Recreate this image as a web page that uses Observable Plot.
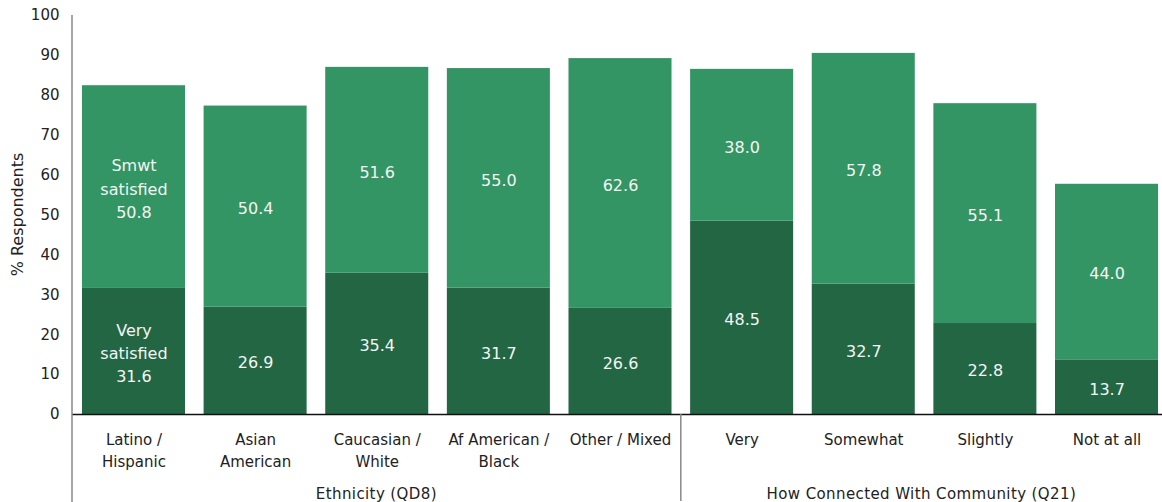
<!DOCTYPE html>
<html>
<head>
<meta charset="utf-8">
<script src="https://cdn.jsdelivr.net/npm/d3@7"></script>
<script src="https://cdn.jsdelivr.net/npm/@observablehq/plot@0.6"></script>
<style>
  html, body { margin: 0; padding: 0; background: #fff; }
  #chart svg { display: block; }
</style>
</head>
<body>
<div id="chart"></div>
<script>
// ---- data ----
const categories = ["Latino / Hispanic", "Asian American", "Caucasian / White", "Af American / Black", "Other / Mixed", "Very", "Somewhat", "Slightly", "Not at all"];
const tickLabels = ["Latino /\nHispanic", "Asian\nAmerican", "Caucasian /\nWhite", "Af American /\nBlack", "Other / Mixed", "Very", "Somewhat", "Slightly", "Not at all"];
const groupNames = ["Ethnicity (QD8)", "How Connected With Community (Q21)"];
const groupOf = [0, 0, 0, 0, 0, 1, 1, 1, 1];
const seriesNames = ["Very satisfied", "Smwt satisfied"];
const seriesLabelText = ["Very\nsatisfied", "Smwt\nsatisfied"];
const verySatisfied = [31.6, 26.9, 35.4, 31.7, 26.6, 48.5, 32.7, 22.8, 13.7];
const smwtSatisfied = [50.8, 50.4, 51.6, 55.0, 62.6, 38.0, 57.8, 55.1, 44.0];
const yTicks = [0, 10, 20, 30, 40, 50, 60, 70, 80, 90, 100];
const yTitle = "% Respondents";
const seriesColors = ["#236644", "#339464"];

const seriesValues = [verySatisfied, smwtSatisfied];
const rows = categories.flatMap((cat, i) => seriesNames.map((s, k) => {
  const v = seriesValues[k][i];
  const txt = v.toFixed(1);
  return {cat, series: s, value: v, label: i === 0 ? seriesLabelText[k] + "\n" + txt : txt};
}));
const tickLabelOf = new Map(categories.map((c, i) => [c, tickLabels[i]]));

const FONT = "DejaVu Sans, Verdana, sans-serif";

function groupDecor(index, scales, values, dims) {
  const x = scales.x;
  const bw = typeof x.bandwidth === "function" ? x.bandwidth() : 0;
  const g = d3.create("svg:g");
  const y0 = dims.height - dims.marginBottom;
  // left axis line extending to bottom
  g.append("line")
    .attr("x1", dims.marginLeft).attr("x2", dims.marginLeft)
    .attr("y1", dims.marginTop).attr("y2", dims.height)
    .attr("stroke", "#888").attr("stroke-width", 1.5);
  const bounds = [dims.marginLeft];
  for (let i = 1; i < categories.length; i++) {
    if (groupOf[i] !== groupOf[i - 1]) {
      const sx = (x(categories[i - 1]) + bw + x(categories[i])) / 2;
      bounds.push(sx);
      g.append("line")
        .attr("x1", sx).attr("x2", sx)
        .attr("y1", y0).attr("y2", dims.height - 1)
        .attr("stroke", "#888").attr("stroke-width", 1.5);
    }
  }
  bounds.push(dims.width - dims.marginRight);
  groupNames.forEach((name, gi) => {
    g.append("text")
      .attr("x", (bounds[gi] + bounds[gi + 1]) / 2)
      .attr("y", dims.height - 8)
      .attr("text-anchor", "middle")
      .attr("dominant-baseline", "middle")
      .attr("font-family", FONT)
      .attr("font-size", 15)
      .attr("letter-spacing", 0.4)
      .attr("fill", "#222")
      .text(name);
  });
  // y axis title
  const ty = (dims.marginTop + y0) / 2;
  g.append("text")
    .attr("transform", `translate(18,${ty}) rotate(-90)`)
    .attr("text-anchor", "middle")
    .attr("dominant-baseline", "middle")
    .attr("font-family", FONT)
    .attr("font-size", 16)
    .attr("fill", "#222")
    .text(yTitle);
  return g.node();
}

const chart = Plot.plot({
  width: 1162,
  height: 502,
  marginTop: 15,
  marginBottom: 88,
  marginLeft: 72,
  marginRight: 0,
  style: {fontFamily: FONT, background: "#fff", color: "#222"},
  x: {domain: categories, range: [72, 1168], paddingInner: 0.153, paddingOuter: 0.082, round: false, label: null},
  y: {domain: [0, 100], label: null},
  color: {domain: seriesNames, range: seriesColors},
  marks: [
    Plot.barY(rows, {x: "cat", y: "value", fill: "series"}),
    Plot.text(rows, Plot.stackY({x: "cat", y: "value", text: "label", fill: "#f4f4f4", fontSize: 16, lineHeight: 1.45, letterSpacing: 0.4})),
    Plot.ruleY([0], {stroke: "#111", strokeWidth: 1.3}),
    Plot.axisY({ticks: yTicks, tickSize: 0, tickPadding: 13, fontSize: 15, label: null}),
    Plot.axisX({tickSize: 0, tickPadding: 15, fontSize: 15, letterSpacing: 0.5, lineHeight: 1.47, tickFormat: d => tickLabelOf.get(d), label: null}),
    groupDecor
  ]
});
document.getElementById("chart").appendChild(chart);
</script>
</body>
</html>
